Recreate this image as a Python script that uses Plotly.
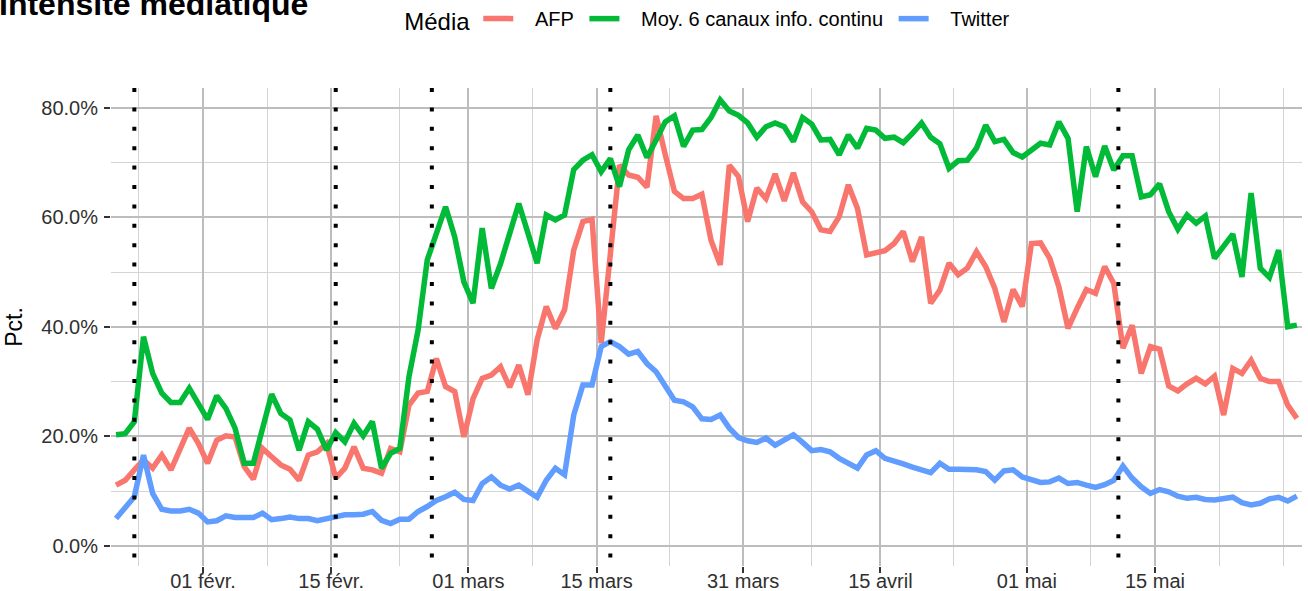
import pandas as pd
import plotly.graph_objects as go

# daily series (% of coverage), one point per day starting 22 Jan 2020
dates = pd.date_range("2020-01-22 12:00", periods=130, freq="D")

afp = [
    11.1, 12.0, 13.9, 15.7, 14.2, 16.6, 13.9, 17.5, 21.5, 18.7, 15.1, 19.3, 20.1, 19.9, 14.5, 12.2, 17.8, 16.3, 14.8, 14.0, 12.0, 16.6,
    17.2, 18.7, 12.4, 14.2, 18.1, 14.2, 13.9, 13.3, 17.8, 17.2, 25.7, 27.9, 28.2, 34.2, 29.1, 28.2, 19.9, 26.9, 30.6, 31.2, 32.7, 29.0,
    33.0, 27.6, 37.6, 43.7, 39.7, 43.1, 54.0, 59.2, 59.6, 37.0, 53.4, 69.5, 67.7, 67.3, 65.5, 78.5, 71.4, 64.7, 63.4, 63.4, 64.2,
    55.8, 51.3, 69.5, 67.4, 59.2, 65.3, 63.4, 67.9, 63.0, 68.1, 62.8, 61.0, 57.7, 57.4, 60.1, 65.9, 61.6, 53.1, 53.4, 53.9, 55.2, 57.4,
    51.9, 56.4, 44.3, 46.7, 51.6, 49.5, 50.7, 53.7, 51.0, 47.0, 40.9, 46.8, 43.7, 55.2, 55.3, 52.5, 47.3, 39.7, 43.4, 46.8, 46.1, 51.0,
    47.9, 36.1, 40.3, 31.5, 36.4, 35.9, 29.2, 28.3, 29.6, 30.6, 29.6, 31.0, 23.9, 32.4, 31.5, 33.9, 30.6, 30.0, 30.0, 25.7, 23.3,
]
moy_info = [
    20.3, 20.5, 22.7, 38.2, 31.5, 27.9, 26.2, 26.2, 28.8, 25.7, 23.1, 27.4, 25.1, 21.5, 15.1, 15.1, 21.4, 27.7, 24.2, 23.0, 17.5, 22.7,
    21.3, 17.5, 20.7, 19.0, 22.4, 20.1, 22.7, 14.2, 16.9, 17.8, 30.9, 39.4, 52.2, 56.8, 61.9, 56.4, 48.2, 44.3, 58.0, 47.0, 51.5, 57.0,
    62.5, 57.1, 51.6, 60.4, 59.5, 60.4, 68.7, 70.4, 71.4, 68.3, 70.7, 65.6, 72.3, 75.0, 70.9, 74.1, 77.4, 78.5, 72.9, 75.9, 76.0,
    78.2, 81.4, 79.4, 78.6, 77.2, 74.6, 76.5, 77.2, 76.5, 73.8, 78.2, 77.0, 74.1, 74.2, 71.4, 75.0, 72.6, 76.2, 75.9, 74.4, 74.6, 73.6,
    75.3, 77.2, 74.6, 73.4, 68.9, 70.3, 70.4, 72.6, 76.8, 73.8, 74.2, 71.8, 71.0, 72.3, 73.5, 73.2, 77.4, 74.4, 61.0, 72.9, 67.4, 73.0,
    68.6, 71.2, 71.2, 63.7, 64.1, 66.1, 61.0, 57.8, 60.4, 58.9, 60.2, 52.5, 54.6, 56.9, 49.1, 64.4, 50.7, 49.0, 54.0, 40.0, 40.3,
]
twitter = [
    5.0, 7.2, 9.0, 16.6, 9.6, 6.7, 6.4, 6.4, 6.7, 6.0, 4.4, 4.6, 5.5, 5.2, 5.2, 5.2, 6.0, 4.8, 5.0, 5.3, 5.0, 5.0,
    4.6, 4.9, 5.2, 5.7, 5.7, 5.8, 6.3, 4.7, 4.1, 4.9, 4.9, 6.3, 7.2, 8.3, 9.0, 9.8, 8.5, 8.3, 11.4, 12.6, 11.1, 10.4,
    11.1, 9.9, 8.9, 12.0, 14.2, 13.0, 23.9, 29.4, 29.4, 36.4, 37.3, 36.4, 35.0, 35.5, 33.3, 31.8, 29.1, 26.6, 26.3, 25.4, 23.2,
    23.1, 23.9, 21.5, 19.8, 19.2, 18.9, 19.7, 18.4, 19.3, 20.3, 18.9, 17.4, 17.6, 17.2, 16.0, 15.1, 14.2, 16.6, 17.4, 16.0, 15.6, 15.0,
    14.4, 14.0, 13.4, 15.1, 14.0, 14.0, 14.0, 13.9, 13.6, 12.0, 13.7, 13.9, 12.6, 12.0, 11.6, 11.7, 12.4, 11.4, 11.6, 11.1, 10.7, 11.2,
    12.0, 14.6, 12.4, 10.8, 9.6, 10.3, 9.9, 9.1, 8.7, 8.9, 8.5, 8.4, 8.7, 8.9, 7.9, 7.5, 7.8, 8.6, 8.9, 8.2, 9.1,
]

series = [("AFP", afp, "#F8766D"), ("Moy. 6 canaux info. continu", moy_info, "#00BA38"), ("Twitter", twitter, "#619CFF")]

# key dates marked with dotted vertical lines
events = ["2020-01-24 12:00", "2020-02-15 12:00", "2020-02-26 00:00", "2020-03-16 12:00", "2020-05-11 00:00"]

tick_dates = ["2020-02-01", "2020-02-15", "2020-03-01", "2020-03-15", "2020-03-31", "2020-04-15", "2020-05-01", "2020-05-15"]
tick_labels = ["01 févr.", "15 févr.", "01 mars", "15 mars", "31 mars", "15 avril", "01 mai", "15 mai"]
minor_dates = ["2020-01-25", "2020-02-08", "2020-02-22 12:00", "2020-03-08", "2020-03-23", "2020-04-07 12:00",
               "2020-04-23", "2020-05-08", "2020-05-22", "2020-05-29"]
y_ticks = [0, 0.2, 0.4, 0.6, 0.8]
y_minor = [0.1, 0.3, 0.5, 0.7]

FONT = "Liberation Sans, Arial, Helvetica, sans-serif"

fig = go.Figure()
for name, vals, color in series:
    fig.add_trace(go.Scatter(
        x=dates,
        y=[v / 100 for v in vals],
        mode="lines",
        name="\u00a0\u00a0\u00a0" + name + "\u00a0",  # pad legend entries like ggplot's key spacing
        line=dict(color=color, width=5.5),
    ))

for d in events:
    fig.add_shape(type="line", xref="x", yref="paper", x0=d, x1=d, y0=1, y1=0,
                  line=dict(color="black", width=4, dash="4px,15.4px"))

# title sits partly above the top edge, as in the original export
fig.add_annotation(
    text="<b>Intensité médiatique</b>", xref="paper", yref="paper",
    x=-0.0957, y=1.1757, xanchor="left", yanchor="middle", showarrow=False,
    font=dict(size=32, color="black", family=FONT),
)

fig.update_layout(
    width=1308,
    height=591,
    margin=dict(l=111, r=6, t=88, b=25, autoexpand=False),
    plot_bgcolor="white",
    paper_bgcolor="white",
    font=dict(family=FONT, color="black"),
    legend=dict(
        orientation="h", x=0.504, xanchor="center", y=1.142, yanchor="middle",
        title=dict(text="Média", font=dict(size=24, color="black"), side="left"),
        font=dict(size=20, color="black"),
        bgcolor="rgba(0,0,0,0)",
    ),
    xaxis=dict(
        range=["2020-01-21 22:48", "2020-05-31 01:26"],
        tickmode="array", tickvals=tick_dates, ticktext=tick_labels,
        showgrid=True, gridcolor="#bdbdbd", gridwidth=1.5,
        ticks="outside", ticklen=6, tickwidth=1.5, tickcolor="#333333",
        tickfont=dict(size=20, color="#303030"), ticklabelstandoff=-9,
        minor=dict(tickmode="array", tickvals=minor_dates, showgrid=True, gridcolor="#d4d4d4", gridwidth=1, ticks=""),
        showline=False, zeroline=False, automargin=False,
    ),
    yaxis=dict(
        range=[-0.0365, 0.8358],
        tickmode="array", tickvals=y_ticks, tickformat=".1%",
        showgrid=True, gridcolor="#bdbdbd", gridwidth=1.5,
        ticks="outside", ticklen=6, tickwidth=1.5, tickcolor="#333333",
        tickfont=dict(size=20, color="#303030"), ticklabelstandoff=2,
        minor=dict(tickmode="array", tickvals=y_minor, showgrid=True, gridcolor="#d4d4d4", gridwidth=1, ticks=""),
        title=dict(text="Pct.", font=dict(size=23, color="black"), standoff=12),
        showline=False, zeroline=False, automargin=False,
    ),
)

# drop the browser's default body margin so the figure fills the window
fig.write_html("out.html", config={"displayModeBar": False},
               post_script="document.body.style.margin = '0';")
